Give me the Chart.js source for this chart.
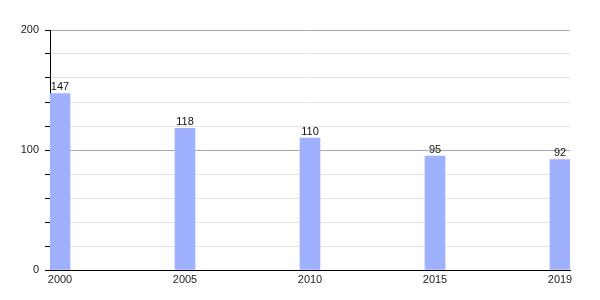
<!DOCTYPE html>
<html>
<head>
<meta charset="utf-8">
<script src="https://cdn.jsdelivr.net/npm/chart.js@4"></script>
<style>
  html, body { margin: 0; padding: 0; background: #fff; }
  #wrap { width: 600px; height: 300px; }
</style>
</head>
<body>
<div id="wrap"><canvas id="chart"></canvas></div>
<script>
var years = ['2000', '2005', '2010', '2015', '2019'];
var values = [147, 118, 110, 95, 92];
var yTicks = [0, 100, 200];

// draws the value above each bar
var barLabels = {
  id: 'barLabels',
  afterDatasetsDraw: function(chart) {
    var ctx = chart.ctx;
    var meta = chart.getDatasetMeta(0);
    ctx.save();
    ctx.font = '11px "Liberation Sans", Arial, sans-serif';
    ctx.fillStyle = '#111';
    ctx.textAlign = 'center';
    ctx.textBaseline = 'bottom';
    meta.data.forEach(function(bar, i) {
      ctx.fillText(values[i], bar.x, bar.y - 1);
    });
    ctx.restore();
  }
};

var ctx = document.getElementById('chart').getContext('2d');
new Chart(ctx, {
  type: 'bar',
  data: {
    datasets: [{
      data: values.map(function(v, i) { return { x: i, y: v }; }),
      backgroundColor: '#9fb0ff',
      barThickness: 20
    }]
  },
  plugins: [barLabels],
  options: {
    responsive: true,
    maintainAspectRatio: false,
    animation: false,
    layout: { padding: { top: 30, right: 30, left: 0, bottom: 0 } },
    plugins: {
      legend: { display: false },
      tooltip: { enabled: false }
    },
    scales: {
      x: {
        type: 'linear',
        offset: false,
        min: -0.08,
        max: 4.08,
        afterBuildTicks: function(scale) {
          scale.ticks = years.map(function(_, i) { return { value: i }; });
        },
        afterFit: function(scale) { scale.height = 30; },
        grid: { display: false, drawTicks: false, offset: false },
        border: { color: '#000', width: 1 },
        ticks: {
          padding: 3,
          color: '#222',
          font: { size: 11, family: '"Liberation Sans", Arial, sans-serif' },
          callback: function(v) { return years[v]; }
        }
      },
      y: {
        min: 0,
        max: 200,
        afterFit: function(scale) { scale.width = 50; },
        grid: {
          color: function(c) { return c.tick.value % 100 === 0 ? '#aaaaaa' : '#e3e3e3'; },
          tickColor: '#000',
          tickLength: 5
        },
        border: { color: '#000', width: 1 },
        ticks: {
          stepSize: 20,
          padding: 6,
          color: '#222',
          font: { size: 11, family: '"Liberation Sans", Arial, sans-serif' },
          callback: function(v) { return yTicks.indexOf(v) >= 0 ? v : ''; }
        }
      }
    }
  }
});
</script>
</body>
</html>
